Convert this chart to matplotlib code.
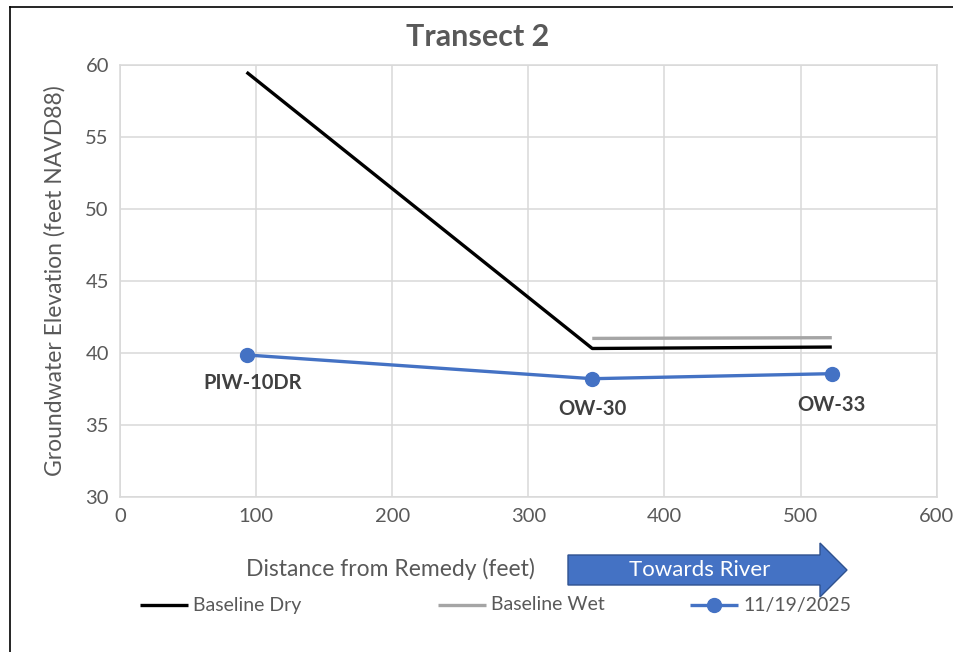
import matplotlib
matplotlib.use("Agg")
import matplotlib.pyplot as plt
from matplotlib.patches import Polygon
from matplotlib.lines import Line2D

plt.rcParams['font.family'] = ['Lato', 'DejaVu Sans']

# Data
dry_x = [93, 347, 523]
dry_y = [59.5, 40.3, 40.4]
wet_x = [347, 523]
wet_y = [41.0, 41.05]
obs_x = [93, 347, 523]
obs_y = [39.85, 38.2, 38.55]
well_labels = ["PIW-10DR", "OW-30", "OW-33"]
label_offsets = [(4, -20), (0, -22), (0, -22.5)]  # in points
xticks = [0, 100, 200, 300, 400, 500, 600]
yticks = [30, 35, 40, 45, 50, 55, 60]
series_names = ["Baseline Dry", "Baseline Wet", "11/19/2025"]

W, H = 954, 652
fig = plt.figure(figsize=(W / 100, H / 100), dpi=100)

def fx(px):
    return px / W

def fy(py):
    return 1 - py / H

ax = fig.add_axes([fx(120), fy(496.7), (936.6 - 120) / W, (496.7 - 65) / H])
ax.set_xlim(0, 600)
ax.set_ylim(30, 60)
ax.set_xticks(xticks)
ax.set_yticks(yticks)
ax.grid(True, color='#d9d9d9', linewidth=1.1)
ax.set_axisbelow(True)
for s in ax.spines.values():
    s.set_color('#d9d9d9')
    s.set_linewidth(1.1)
ax.tick_params(length=0, labelsize=14.5, labelcolor='#595959', pad=8)

ax.plot(dry_x, dry_y, color='black', linewidth=2.4, solid_capstyle='butt', zorder=3)
ax.plot(wet_x, wet_y, color='#a5a5a5', linewidth=2.4, solid_capstyle='butt', zorder=3)
ax.plot(obs_x, obs_y, color='#4472c4', linewidth=2.4, marker='o', markersize=10, zorder=4)

for x, y, lab, off in zip(obs_x, obs_y, well_labels, label_offsets):
    ax.annotate(lab, (x, y), xytext=off, textcoords='offset points', ha='center', va='center',
                fontsize=14.5, fontweight='bold', color='#404040')

fig.text(fx(478), fy(37), "Transect 2", ha='center', va='center', fontsize=22,
         fontweight='bold', color='#595959')
fig.text(fx(390), fy(569), "Distance from Remedy (feet)", ha='center', va='center',
         fontsize=16.5, color='#595959')
fig.text(fx(55), fy(281), "Groundwater Elevation (feet NAVD88)", ha='center', va='center',
         fontsize=16.5, color='#595959', rotation=90)

# Arrow "Towards River"
pts = [(568, 555), (820, 555), (820, 543), (847, 570), (820, 597), (820, 585), (568, 585)]
poly = Polygon([(fx(x), fy(y)) for x, y in pts], closed=True, transform=fig.transFigure,
               facecolor='#4472c4', edgecolor='#2f528f', linewidth=1.0)
fig.add_artist(poly)
fig.text(fx(700), fy(570), "Towards River", ha='center', va='center', fontsize=16,
         color='white')

# Legend (manual placement)
leg_colors = ['black', '#a5a5a5', '#4472c4']
leg_markers = [None, None, 'o']
leg_x = [140, 438, 690]
leg_y = 605
for x0, c, m, name in zip(leg_x, leg_colors, leg_markers, series_names):
    fig.add_artist(Line2D([fx(x0), fx(x0 + 48)], [fy(leg_y), fy(leg_y)], transform=fig.transFigure,
                          color=c, linewidth=2.4, solid_capstyle='butt'))
    if m:
        fig.add_artist(Line2D([fx(x0 + 24)], [fy(leg_y)], transform=fig.transFigure,
                              color=c, marker=m, markersize=10, linestyle='none'))
    fig.text(fx(x0 + 53), fy(leg_y), name, ha='left', va='center', fontsize=14,
             color='#595959')

# Outer frame (top and left visible)
fig.add_artist(Line2D([fx(10), 1.0], [fy(7), fy(7)], transform=fig.transFigure,
                      color='black', linewidth=1.2))
fig.add_artist(Line2D([fx(10), fx(10)], [fy(7), 0], transform=fig.transFigure,
                      color='black', linewidth=1.2))

fig.savefig("out.png", dpi=100)
